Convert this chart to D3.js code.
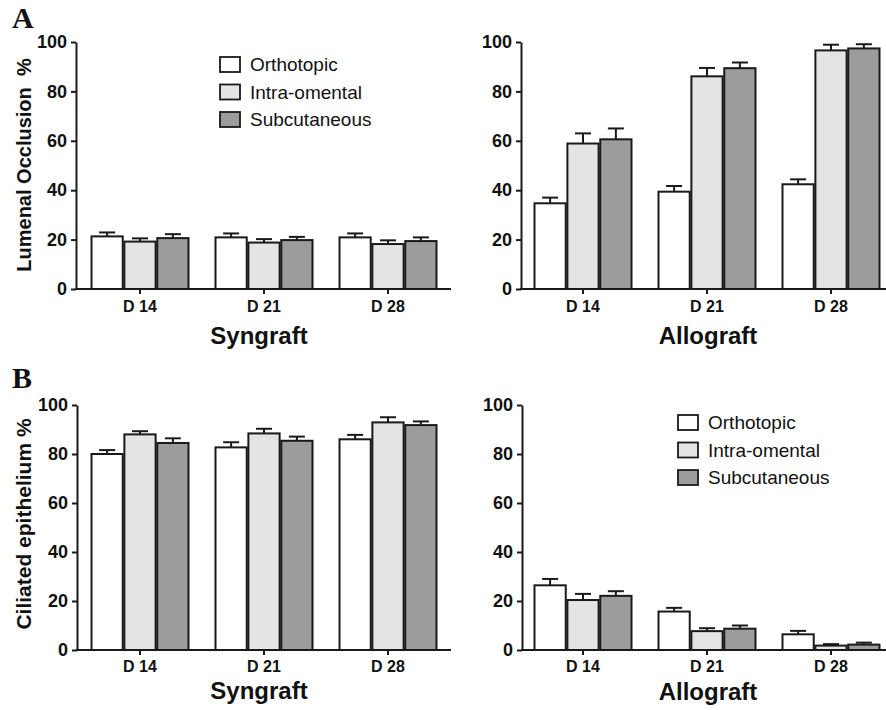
<!DOCTYPE html>
<html><head><meta charset="utf-8">
<script src="https://cdn.jsdelivr.net/npm/d3@7"></script>
<style>body{margin:0;background:#fff}svg{display:block}</style>
</head><body>
<script>
const categories = ["D 14", "D 21", "D 28"];
const seriesNames = ["Orthotopic", "Intra-omental", "Subcutaneous"];
const yTicks = [0, 20, 40, 60, 80, 100];

// Panel A – Lumenal occlusion %
const synOccOrtho = [21.3, 20.9, 20.9], synOccOrthoErr = [1.6, 1.6, 1.6];
const synOccIntra = [19.2, 18.8, 18.2], synOccIntraErr = [1.3, 1.4, 1.5];
const synOccSubcu = [20.6, 19.8, 19.4], synOccSubcuErr = [1.6, 1.3, 1.5];
const alloOccOrtho = [34.7, 39.4, 42.4], alloOccOrthoErr = [2.3, 2.3, 2.0];
const alloOccIntra = [58.9, 86.1, 96.6], alloOccIntraErr = [4.1, 3.4, 2.3];
const alloOccSubcu = [60.6, 89.4, 97.4], alloOccSubcuErr = [4.4, 2.3, 1.7];

// Panel B – Ciliated epithelium %
const synCilOrtho = [80.0, 82.7, 86.0], synCilOrthoErr = [1.6, 2.1, 1.8];
const synCilIntra = [88.0, 88.4, 92.9], synCilIntraErr = [1.3, 1.9, 2.1];
const synCilSubcu = [84.5, 85.4, 91.8], synCilSubcuErr = [1.9, 1.7, 1.5];
const alloCilOrtho = [26.4, 15.7, 6.4], alloCilOrthoErr = [2.6, 1.5, 1.4];
const alloCilIntra = [20.4, 7.7, 1.8], alloCilIntraErr = [2.5, 1.2, 0.6];
const alloCilSubcu = [22.1, 8.7, 2.2], alloCilSubcuErr = [1.9, 1.3, 0.8];

const fills = ["#ffffff", "#e4e4e4", "#9c9c9c"];
const stroke = "#1a1a1a";
const FONT = "'Liberation Sans', Arial, Helvetica, sans-serif";

const svg = d3.select("body").append("svg").attr("width", 886).attr("height", 710)
  .style("font-family", FONT);

const panels = [
  { axisX: 76, axisEnd: 451, band: [78, 450], y0: 289, y100: 42,
    vals: [synOccOrtho, synOccIntra, synOccSubcu], errs: [synOccOrthoErr, synOccIntraErr, synOccSubcuErr],
    title: "Syngraft", titleX: 259, titleY: 344, tickY: 312,
    ylabel: "Lumenal Occlusion  %", ylabelSize: 20, ylabelX: 31, ylabelY: 165,
    legend: { x: 220, y: 57 } },
  { axisX: 521, axisEnd: 886, band: [521, 893], y0: 289, y100: 42,
    vals: [alloOccOrtho, alloOccIntra, alloOccSubcu], errs: [alloOccOrthoErr, alloOccIntraErr, alloOccSubcuErr],
    title: "Allograft", titleX: 708, titleY: 344, tickY: 312 },
  { axisX: 77, axisEnd: 451, band: [78, 450], y0: 650, y100: 405,
    vals: [synCilOrtho, synCilIntra, synCilSubcu], errs: [synCilOrthoErr, synCilIntraErr, synCilSubcuErr],
    title: "Syngraft", titleX: 259, titleY: 699, tickY: 672,
    ylabel: "Ciliated epithelium %", ylabelSize: 21, ylabelX: 31, ylabelY: 524 },
  { axisX: 522, axisEnd: 886, band: [521, 893], y0: 650, y100: 405,
    vals: [alloCilOrtho, alloCilIntra, alloCilSubcu], errs: [alloCilOrthoErr, alloCilIntraErr, alloCilSubcuErr],
    title: "Allograft", titleX: 708, titleY: 700, tickY: 672,
    legend: { x: 235, y: 60, offX: 443, offY: 355 } }
];

panels.forEach(p => {
  const g = svg.append("g");
  const x = d3.scaleBand().domain(categories).range(p.band).paddingInner(0).paddingOuter(0);
  const groupW = 97;
  const xi = d3.scaleBand().domain(d3.range(seriesNames.length)).range([0, groupW]).paddingInner(0.05);
  const y = d3.scaleLinear().domain([0, 100]).range([p.y0, p.y100]);
  const gStart = c => x(c) + x.bandwidth() / 2 - groupW / 2;

  // bars
  seriesNames.forEach((s, si) => {
    categories.forEach((c, ci) => {
      const v = p.vals[si][ci], e = p.errs[si][ci];
      const bx = gStart(c) + xi(si), bw = xi.bandwidth();
      const cx = bx + bw / 2;
      g.append("line").attr("x1", cx).attr("x2", cx).attr("y1", y(v)).attr("y2", y(v + e))
        .attr("stroke", stroke).attr("stroke-width", 2);
      g.append("line").attr("x1", cx - 8).attr("x2", cx + 8).attr("y1", y(v + e)).attr("y2", y(v + e))
        .attr("stroke", stroke).attr("stroke-width", 2);
      g.append("rect").attr("x", bx).attr("y", y(v)).attr("width", bw).attr("height", y(0) - y(v))
        .attr("fill", fills[si]).attr("stroke", stroke).attr("stroke-width", 2);
    });
  });

  // y axis
  const ya = g.append("g").attr("transform", `translate(${p.axisX},0)`)
    .call(d3.axisLeft(y).tickValues(yTicks).tickSize(5).tickPadding(4).tickSizeOuter(0));
  ya.select(".domain").attr("stroke", stroke).attr("stroke-width", 2);
  ya.selectAll(".tick line").attr("stroke", stroke).attr("stroke-width", 2);
  ya.selectAll(".tick text").attr("font-size", 18).attr("font-weight", "bold").attr("fill", "#111")
    .attr("font-family", FONT);

  // x axis
  g.append("line").attr("x1", p.axisX - 1).attr("x2", p.axisEnd).attr("y1", y(0)).attr("y2", y(0))
    .attr("stroke", stroke).attr("stroke-width", 2);
  categories.forEach(c => {
    const cx = x(c) + x.bandwidth() / 2;
    g.append("line").attr("x1", cx).attr("x2", cx).attr("y1", y(0)).attr("y2", y(0) + 5)
      .attr("stroke", stroke).attr("stroke-width", 2);
    g.append("text").attr("x", cx).attr("y", p.tickY).attr("text-anchor", "middle")
      .attr("font-size", 16).attr("font-weight", "bold").attr("fill", "#111").text(c);
  });

  g.append("text").attr("x", p.titleX).attr("y", p.titleY).attr("text-anchor", "middle")
    .attr("font-size", 24).attr("font-weight", "bold").attr("fill", "#111").text(p.title);

  if (p.ylabel) {
    g.append("text").attr("transform", `translate(${p.ylabelX},${p.ylabelY}) rotate(-90)`)
      .attr("text-anchor", "middle").attr("font-size", p.ylabelSize).attr("font-weight", "bold")
      .attr("fill", "#111").style("white-space", "pre").text(p.ylabel);
  }

  if (p.legend) {
    const lx = p.legend.x + (p.legend.offX || 0), ly = p.legend.y + (p.legend.offY || 0);
    seriesNames.forEach((s, si) => {
      g.append("rect").attr("x", lx).attr("y", ly + si * 27.5).attr("width", 20).attr("height", 15)
        .attr("fill", fills[si]).attr("stroke", stroke).attr("stroke-width", 1.8);
      g.append("text").attr("x", lx + 30).attr("y", ly + si * 27.5 + 14).attr("font-size", 19)
        .attr("fill", "#111").text(s);
    });
  }
});

svg.append("text").attr("x", 12).attr("y", 28).attr("font-family", "'Liberation Serif', 'Times New Roman', serif")
  .attr("font-weight", "bold").attr("font-size", 30).attr("fill", "#111").text("A");
svg.append("text").attr("x", 12).attr("y", 388).attr("font-family", "'Liberation Serif', 'Times New Roman', serif")
  .attr("font-weight", "bold").attr("font-size", 30).attr("fill", "#111").text("B");
</script>
</body></html>
